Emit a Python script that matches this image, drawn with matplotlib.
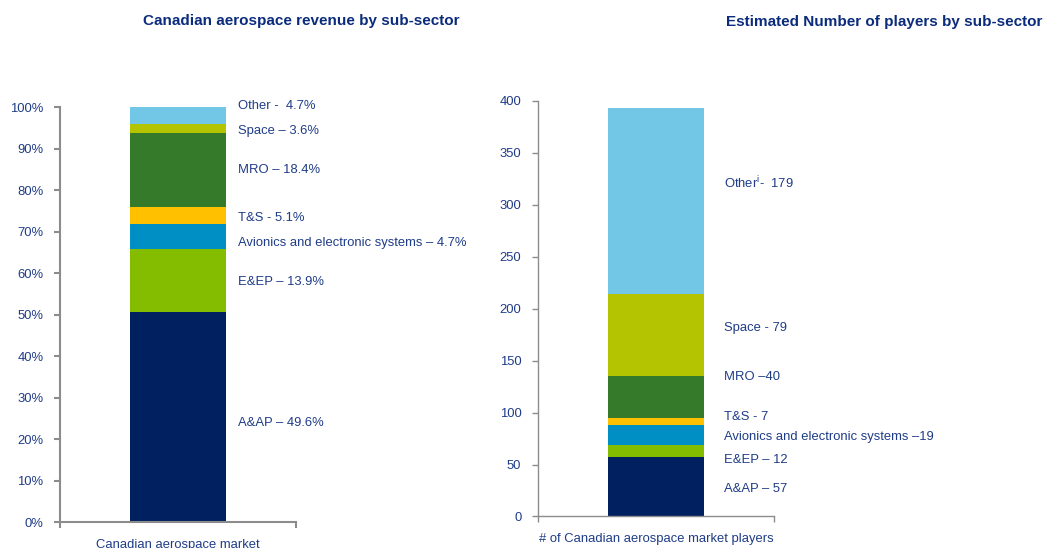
import matplotlib
matplotlib.use("Agg")
from matplotlib import pyplot as plt
import matplotlib.transforms as mtransforms

# segment names, bottom to top
sectors = ["A&AP", "E&EP", "Avionics", "T&S", "MRO", "Space", "Other"]
colors = ["#002060", "#84BD00", "#008FC5", "#FFC000", "#357A2A", "#B5C400", "#72C6E6"]

# revenue share (%) as drawn in the bar
revenue = [50.7, 15.1, 6.0, 4.1, 17.8, 2.3, 4.0]
revenue_labels = ["A&AP \u2013 49.6%", "E&EP \u2013 13.9%",
                  "Avionics and electronic systems \u2013 4.7%", "T&S - 5.1%",
                  "MRO \u2013 18.4%", "Space \u2013 3.6%", "Other -  4.7%"]

# number of players
players = [57, 12, 19, 7, 40, 79, 179]
players_labels = ["A&AP \u2013 57", "E&EP \u2013 12",
                  "Avionics and electronic systems \u201319", "T&S - 7",
                  "MRO \u201340", "Space - 79", "Other$^{\\mathregular{i}}$-  179"]

left_ticks = [0, 10, 20, 30, 40, 50, 60, 70, 80, 90, 100]
right_ticks = [0, 50, 100, 150, 200, 250, 300, 350, 400]

# label placement (layout only)
left_label_y = [23.9, 57.8, 67.2, 73.3, 84.8, 94.2, 100.2]
right_label_y = [26.4, 54.3, 76.4, 95.7, 134, 181, 320.7]

txt = "#1F3C88"
title_c = "#0B2C7C"
grey = "#8C8C8C"
plt.rcParams['font.family'] = ['Liberation Sans', 'DejaVu Sans']
plt.rcParams['mathtext.fontset'] = 'custom'
plt.rcParams['mathtext.rm'] = 'Liberation Sans'

fig = plt.figure(figsize=(10.44, 5.48), dpi=100)
ax1 = fig.add_axes([0.0575, 0.0474, 0.226, 0.7573])
ax2 = fig.add_axes([0.5153, 0.0575, 0.226, 0.7587])


def draw(ax, vals, labels, label_y, lx, ticks, ymax, cat, fmt, lw):
    bottom = 0
    for v, c in zip(vals, colors):
        ax.bar(0, v, width=0.813, bottom=bottom, color=c, edgecolor="none")
        bottom += v
    ax.set_xlim(-1, 1)
    ax.set_ylim(0, ymax)
    ax.set_yticks(ticks)
    ax.set_yticklabels([fmt(t) for t in ticks])
    ax.set_xticks([0])
    ax.set_xticklabels([cat])
    ax.set_xticks([-1, 1], minor=True)
    ax.tick_params(axis="x", which="major", length=0, pad=12, labelsize=9.4, labelcolor=txt)
    ax.tick_params(axis="x", which="minor", length=4, width=lw, color=grey, direction="out")
    ax.tick_params(axis="y", length=4, width=lw, color=grey, direction="out",
                   labelsize=9.4, labelcolor=txt, pad=8)
    for s in ["top", "right"]:
        ax.spines[s].set_visible(False)
    for s in ["left", "bottom"]:
        ax.spines[s].set_color(grey)
        ax.spines[s].set_linewidth(lw)
    tr = mtransforms.blended_transform_factory(ax.transAxes, ax.transData)
    for lab, y in zip(labels, label_y):
        ax.text(lx, y, lab, transform=tr, ha="left", va="center",
                fontsize=9.4, color=txt, clip_on=False)


draw(ax1, revenue, revenue_labels, left_label_y, 0.754, left_ticks, 100,
     "Canadian aerospace market", lambda t: f"{t}%", 1.5)
draw(ax2, players, players_labels, right_label_y, 0.788, right_ticks, 400,
     "# of Canadian aerospace market players", lambda t: f"{t}", 1.0)

fig.text(301 / 1044, 1 - 21 / 548, "Canadian aerospace revenue by sub-sector",
         ha="center", va="center", fontsize=11, fontweight="bold", color=title_c)
fig.text(884 / 1044, 1 - 22 / 548, "Estimated Number of players by sub-sector",
         ha="center", va="center", fontsize=11, fontweight="bold", color=title_c)

fig.savefig("out.png", dpi=100)
